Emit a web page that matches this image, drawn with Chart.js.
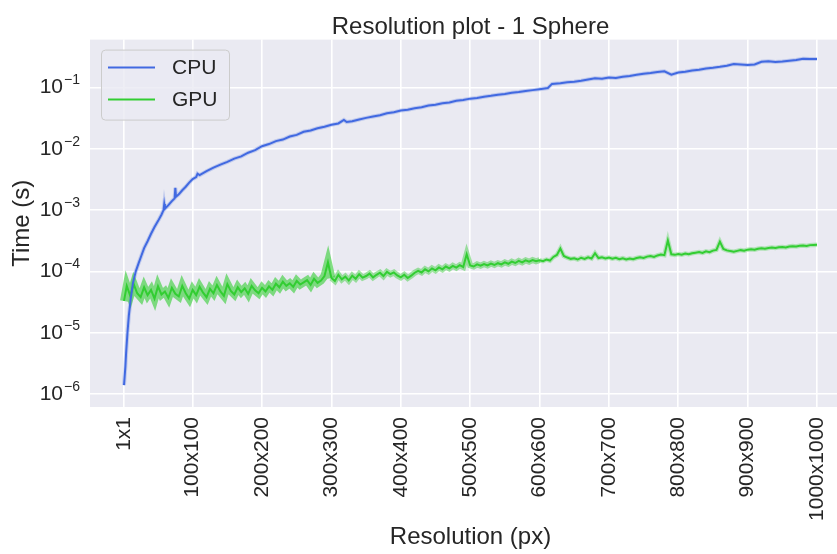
<!DOCTYPE html>
<html lang="en">
<head>
<meta charset="UTF-8">
<title>Resolution plot - 1 Sphere</title>
<script src="https://cdn.jsdelivr.net/npm/chart.js@4/dist/chart.umd.min.js"></script>
<style>
  html, body { margin: 0; padding: 0; background: #fff; overflow: hidden; }
  #wrap { position: relative; width: 880px; height: 554px; }
</style>
</head>
<body>
<div id="wrap"><canvas id="plot" width="880" height="554"></canvas></div>
<script>
// x ticks: square resolutions (side length in px)
const resTicks = [1, 100, 200, 300, 400, 500, 600, 700, 800, 900, 1000];
const resLabels = ['1x1', '100x100', '200x200', '300x300', '400x400', '500x500',
                   '600x600', '700x700', '800x800', '900x900', '1000x1000'];

// y ticks (seconds, log axis): base "10" plus exponent
const timeTicks = [1e-6, 1e-5, 1e-4, 1e-3, 1e-2, 1e-1];
const timeExp = ['\u22126', '\u22125', '\u22124', '\u22123', '\u22122', '\u22121'];

// CPU render time (s) per resolution
const cpuRes = [1, 3, 4, 6, 8, 11, 14, 18, 22, 26, 30, 35, 40, 45, 50, 55, 58, 59, 60, 65,
  70, 74, 75, 76, 80, 85, 90, 95, 100, 105, 107, 110, 120, 130, 140, 150, 160, 170, 180, 190,
  200, 210, 220, 230, 240, 250, 260, 270, 280, 290, 300, 310, 318, 322, 330, 340, 350, 360, 370, 380,
  390, 400, 410, 420, 430, 440, 450, 460, 470, 480, 490, 500, 510, 520, 530, 540, 550, 560, 570, 580,
  590, 600, 612, 618, 630, 640, 650, 660, 670, 680, 690, 700, 710, 720, 730, 740, 750, 760, 770, 780,
  790, 800, 810, 820, 830, 840, 850, 860, 870, 880, 890, 900, 910, 920, 930, 940, 950, 960, 970, 980,
  990, 1000];
const cpuTime = [1.4e-6, 2.8e-6, 4.6e-6, 1.0e-5, 1.9e-5, 3.8e-5, 6.5e-5, 1.0e-4, 1.35e-4, 1.8e-4,
  2.4e-4, 3.1e-4, 4.1e-4, 5.3e-4, 6.6e-4, 8.4e-4, 1.0e-3, 1.25e-3, 1.05e-3, 1.2e-3,
  1.4e-3, 1.55e-3, 2.3e-3, 1.65e-3, 1.8e-3, 2.1e-3, 2.4e-3, 2.8e-3, 3.2e-3, 3.45e-3,
  3.9e-3, 3.7e-3, 4.3e-3, 4.9e-3, 5.5e-3, 6.1e-3, 6.9e-3, 7.5e-3, 8.6e-3, 9.5e-3,
  0.0110, 0.0119, 0.0133, 0.0141, 0.0158, 0.0168, 0.0189, 0.0198, 0.0216, 0.0228,
  0.0245, 0.0258, 0.0295, 0.0272, 0.0281, 0.0300, 0.0318, 0.0335, 0.0352, 0.0378,
  0.0392, 0.0420, 0.0432, 0.0458, 0.0474, 0.0505, 0.0520, 0.0552, 0.0568, 0.0605,
  0.0621, 0.0655, 0.0672, 0.0705, 0.0728, 0.0760, 0.0778, 0.0815, 0.0838, 0.0870,
  0.0902, 0.0935, 0.0975, 0.114, 0.117, 0.121, 0.124, 0.128, 0.134, 0.141,
  0.138, 0.145, 0.142, 0.149, 0.153, 0.160, 0.167, 0.171, 0.178, 0.183,
  0.161, 0.175, 0.180, 0.188, 0.194, 0.203, 0.208, 0.216, 0.226, 0.240,
  0.236, 0.231, 0.236, 0.262, 0.266, 0.259, 0.264, 0.272, 0.279, 0.294,
  0.291, 0.289];

// GPU render time (microseconds), sampled at 1, 5, 10, ... 1000
const gpuRes = [1];
for (let r = 5; r <= 1000; r += 5) gpuRes.push(r);
const gpuTimeUs = [
  33, 58, 40, 62, 44, 38, 55, 41, 50, 36,
  57, 42, 47, 37, 54, 43, 39, 58, 44, 36,
  50, 41, 56, 45, 38, 52, 44, 60, 47, 40,
  62, 48, 42, 55, 46, 53, 43, 58, 49, 44,
  54, 47, 57, 50, 63, 55, 68, 58, 64, 56,
  70, 61, 66, 72, 60, 76, 65, 71, 84, 140,
  78, 70, 88, 74, 82, 71, 85, 76, 90, 79,
  84, 92, 80, 88, 95, 84, 98, 90, 96, 86,
  80, 88, 78, 85, 95, 102, 96, 108, 100, 112,
  104, 116, 108, 120, 112, 123, 115, 126, 118, 190,
  125, 120, 130, 124, 132, 125, 134, 127, 136, 130,
  140, 133, 144, 137, 148, 140, 151, 144, 153, 146,
  152, 147, 156, 150, 172, 185, 236, 178, 168, 160,
  163, 156, 167, 160, 170, 162, 198, 165, 170, 163,
  168, 161, 166, 158, 164, 157, 162, 158, 165, 170,
  166, 174, 178, 172, 182, 188, 184, 318, 190, 186,
  192, 187, 195, 190, 198, 202, 206, 200, 212, 206,
  218, 224, 305, 232, 220, 214, 210, 216, 222, 218,
  226, 230, 226, 234, 238, 234, 240, 244, 240, 248,
  250, 246, 254, 258, 255, 262, 264, 260, 268, 270,
  272];

const FONT = '"Liberation Sans", Arial, sans-serif';
const TEXT = '#262626';
const CPU_COLOR = '#4169e1';
const GPU_COLOR = '#32cd32';

const cpuPts = cpuRes.map((r, i) => ({ x: r, y: cpuTime[i] }));
const gpuPts = gpuRes.map((r, i) => ({ x: r, y: gpuTimeUs[i] / 1e6 }));

function series(label, pts, color, width, extra) {
  return Object.assign({ label, data: pts, borderColor: color, borderWidth: width,
           pointRadius: 0, tension: 0, fill: false }, extra || {});
}

// seaborn-like grey plotting area
const plotBg = {
  id: 'plotBg',
  beforeDraw(chart) {
    const { ctx, chartArea: a } = chart;
    ctx.save();
    ctx.fillStyle = '#eaeaf2';
    ctx.fillRect(a.left, a.top, a.right - a.left, a.bottom - a.top);
    ctx.restore();
  }
};

// exponents of the log tick labels, title over the axes, framed legend
const overlay = {
  id: 'overlay',
  afterDraw(chart) {
    const { ctx, chartArea: a } = chart;
    const yScale = chart.scales.y;
    ctx.save();
    ctx.fillStyle = TEXT;
    ctx.font = '14px ' + FONT;
    ctx.textAlign = 'left';
    ctx.textBaseline = 'alphabetic';
    timeTicks.forEach((v, i) => {
      const py = yScale.getPixelForValue(v);
      ctx.fillText(timeExp[i], 64, py - 3);
    });

    ctx.font = '24px ' + FONT;
    ctx.textAlign = 'center';
    ctx.fillText('Resolution plot - 1 Sphere', (a.left + a.right) / 2, a.top - 6);

    const x0 = a.left + 11, y0 = a.top + 10, w = 128, h = 70;
    ctx.beginPath();
    ctx.roundRect(x0 + 0.5, y0 + 0.5, w, h, 4);
    ctx.fillStyle = 'rgba(234,234,242,0.8)';
    ctx.fill();
    ctx.strokeStyle = '#cccccc';
    ctx.lineWidth = 1;
    ctx.stroke();

    const items = chart.data.datasets.filter(d => d.label);
    ctx.font = '21px ' + FONT;
    ctx.textAlign = 'left';
    ctx.textBaseline = 'middle';
    items.forEach((d, i) => {
      const y = y0 + 18 + i * 32;
      ctx.strokeStyle = d.borderColor;
      ctx.lineWidth = 2;
      ctx.beginPath();
      ctx.moveTo(x0 + 7, y);
      ctx.lineTo(x0 + 54, y);
      ctx.stroke();
      ctx.fillStyle = TEXT;
      ctx.fillText(d.label, x0 + 71, y + 1);
    });
    ctx.restore();
  }
};

const gridStyle = { color: '#ffffff', lineWidth: 1.6, drawTicks: false };

// band around the GPU trace: wide and dense where timings are noisy
const gpuBand = {
  segment: {
    borderWidth: c => (c.p0.parsed.x < 300 ? 8 : c.p0.parsed.x < 600 ? 6 : 4.5),
    borderColor: c => (c.p0.parsed.x < 300 ? 'rgba(50,205,50,0.6)'
                     : c.p0.parsed.x < 600 ? 'rgba(50,205,50,0.45)' : 'rgba(50,205,50,0.3)')
  }
};

new Chart(document.getElementById('plot'), {
  type: 'line',
  data: {
    datasets: [
      series('CPU', cpuPts, CPU_COLOR, 2),
      series('GPU', gpuPts, GPU_COLOR, 2),
      series('', gpuPts, 'rgba(50,205,50,0.3)', 5, gpuBand),
      series('', cpuPts, 'rgba(65,105,225,0.25)', 4)
    ]
  },
  options: {
    responsive: false,
    animation: false,
    events: [],
    layout: { padding: { top: 38, right: 29, left: 0, bottom: 0 } },
    plugins: { legend: { display: false }, tooltip: { enabled: false } },
    scales: {
      x: {
        type: 'linear', min: -48, max: 1049, bounds: 'data',
        grid: gridStyle,
        border: { display: false },
        ticks: {
          color: TEXT, font: { family: FONT, size: 21 }, padding: 10,
          minRotation: 90, maxRotation: 90, autoSkip: false,
          callback: (v) => resLabels[resTicks.indexOf(v)] ?? ''
        },
        afterBuildTicks: (s) => { s.ticks = resTicks.map(v => ({ value: v })); },
        afterFit: (s) => { s.height = 147; },
        title: { display: true, text: 'Resolution (px)', color: TEXT,
                 font: { family: FONT, size: 24 }, padding: { top: 0, bottom: 2 } }
      },
      y: {
        type: 'logarithmic', min: 6.15e-7, max: 0.601, bounds: 'data',
        grid: gridStyle,
        border: { display: false },
        ticks: {
          color: TEXT, font: { family: FONT, size: 21 }, padding: 27,
          callback: () => '10'
        },
        afterBuildTicks: (s) => { s.ticks = timeTicks.map(v => ({ value: v })); },
        afterFit: (s) => { s.width = 90; },
        title: { display: true, text: 'Time (s)', color: TEXT,
                 font: { family: FONT, size: 24 }, padding: { top: 8, bottom: 0 } }
      }
    }
  },
  plugins: [plotBg, overlay]
});
</script>
</body>
</html>
